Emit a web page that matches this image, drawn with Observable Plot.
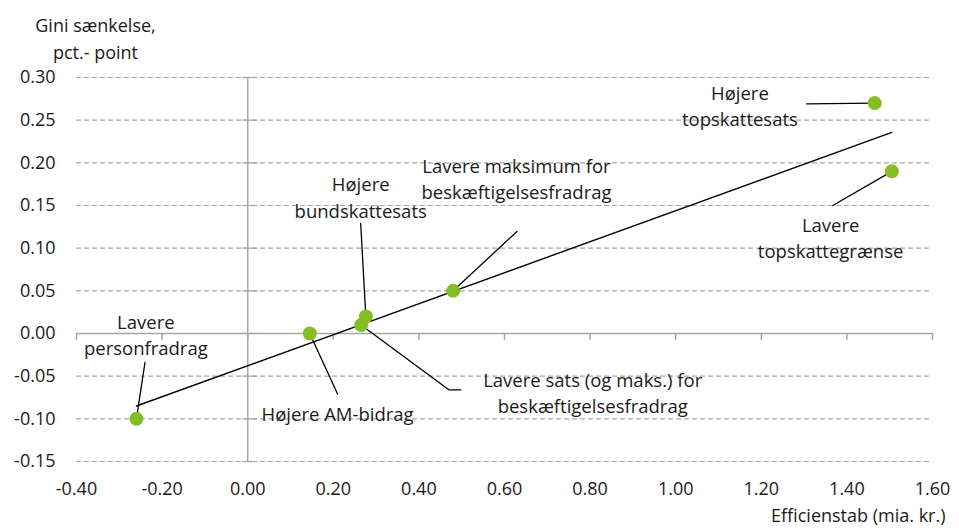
<!DOCTYPE html>
<html>
<head>
<meta charset="utf-8">
<script src="https://cdn.jsdelivr.net/npm/d3@7"></script>
<script src="https://cdn.jsdelivr.net/npm/@observablehq/plot@0.6"></script>
<style>
  html, body { margin: 0; padding: 0; background: #fff; }
  #chart svg { display: block; }
</style>
</head>
<body>
<div id="chart"></div>
<script>
// Reforms: efficiency loss (bn. DKK) vs. reduction in the Gini coefficient (pct. points)
const reforms = [
  "Lavere personfradrag",
  "Højere AM-bidrag",
  "Lavere sats (og maks.) for beskæftigelsesfradrag",
  "Højere bundskattesats",
  "Lavere maksimum for beskæftigelsesfradrag",
  "Højere topskattesats",
  "Lavere topskattegrænse"
];
const efficiencyLoss = [-0.26, 0.145, 0.265, 0.276, 0.48, 1.465, 1.505];
const giniReduction  = [-0.10, 0.00, 0.01, 0.02, 0.05, 0.27, 0.19];

// Annotation text (line-broken) and where each label sits, in data units
const labelText = [
  "Lavere\npersonfradrag",
  "Højere AM-bidrag",
  "Lavere sats (og maks.) for\nbeskæftigelsesfradrag",
  "Højere\nbundskattesats",
  "Lavere maksimum for\nbeskæftigelsesfradrag",
  "Højere\ntopskattesats",
  "Lavere\ntopskattegrænse"
];
const labelX = [-0.238, 0.21, 0.806, 0.264, 0.628, 1.15, 1.362];
const labelY = [0.000, -0.093, -0.068, 0.161, 0.183, 0.268, 0.114];

// Leader-line vertices after the point itself (one leader has an elbow)
const leaderPath = [
  [[-0.24, -0.034]],
  [[0.21, -0.071]],
  [[0.47, -0.066], [0.498, -0.066]],
  [[0.264, 0.129]],
  [[0.629, 0.1195]],
  [[1.306, 0.269]],
  [[1.367, 0.150]]
];

// Axis ticks
const xTicks = [-0.4, -0.2, 0, 0.2, 0.4, 0.6, 0.8, 1.0, 1.2, 1.4, 1.6];
const yTicks = [-0.15, -0.10, -0.05, 0, 0.05, 0.10, 0.15, 0.20, 0.25, 0.30];

const points = reforms.map((name, i) => ({
  name, x: efficiencyLoss[i], y: giniReduction[i]
}));
const labels = reforms.map((name, i) => ({
  text: labelText[i], x: labelX[i], y: labelY[i]
}));
const leaders = reforms.flatMap((name, i) => [
  { name, x: efficiencyLoss[i], y: giniReduction[i] },
  ...leaderPath[i].map(([x, y]) => ({ name, x, y }))
]);

const fmt = d => d.toFixed(2);
const axisGray = "#a6a6a6";

const chart = Plot.plot({
  width: 959,
  height: 528,
  marginLeft: 76,
  marginRight: 27,
  marginTop: 77,
  marginBottom: 67,
  style: { fontFamily: "'Open Sans', sans-serif", fontSize: "18px", color: "#1a1a1a", background: "#fff" },
  x: { domain: [-0.4, 1.6] },
  y: { domain: [-0.15, 0.30] },
  marks: [
    // dashed horizontal gridlines
    Plot.ruleY(yTicks.filter(d => d !== 0), { stroke: axisGray, strokeDasharray: "5,3", strokeWidth: 1.2 }),
    // solid axes crossing at the origin
    Plot.ruleY([0], { stroke: axisGray, strokeWidth: 1.5 }),
    Plot.ruleX([0], { stroke: axisGray, strokeWidth: 1.5 }),
    Plot.ruleX(xTicks, { y1: 0, y2: -0.008, stroke: axisGray, strokeWidth: 1.5 }),
    Plot.ruleY(yTicks, { x1: -0.012, x2: 0.024, stroke: axisGray, strokeWidth: 1.2 }),
    // tick labels
    Plot.axisY({ ticks: yTicks, tickFormat: fmt, tickSize: 0, tickPadding: 21, label: null, fontSize: 18 }),
    Plot.axisX({ ticks: xTicks, tickFormat: fmt, tickSize: 0, tickPadding: 21, label: null, fontSize: 18 }),
    // axis titles
    Plot.text(["Gini sænkelse,\npct.- point"], {
      frameAnchor: "top-left", dx: 19, dy: -41, textAnchor: "middle", lineAnchor: "middle",
      lineHeight: 1.5, fontSize: 18
    }),
    Plot.text(["Efficienstab (mia. kr.)"], {
      frameAnchor: "bottom-right", dx: 13, dy: 55, textAnchor: "end", lineAnchor: "middle", fontSize: 18
    }),
    // trend line
    Plot.linearRegressionY(points, { x: "x", y: "y", ci: 0, stroke: "#000", strokeWidth: 1.4 }),
    // leader lines
    Plot.line(leaders, { x: "x", y: "y", z: "name", stroke: "#000", strokeWidth: 1.3 }),
    // reforms
    Plot.dot(points, { x: "x", y: "y", r: 7, fill: "#84bd24", stroke: "none" }),
    // labels
    Plot.text(labels, { x: "x", y: "y", text: "text", lineAnchor: "middle", lineHeight: 1.42, fontSize: 18.5, fill: "#1a1a1a" })
  ]
});

document.getElementById("chart").append(chart);
</script>
</body>
</html>
